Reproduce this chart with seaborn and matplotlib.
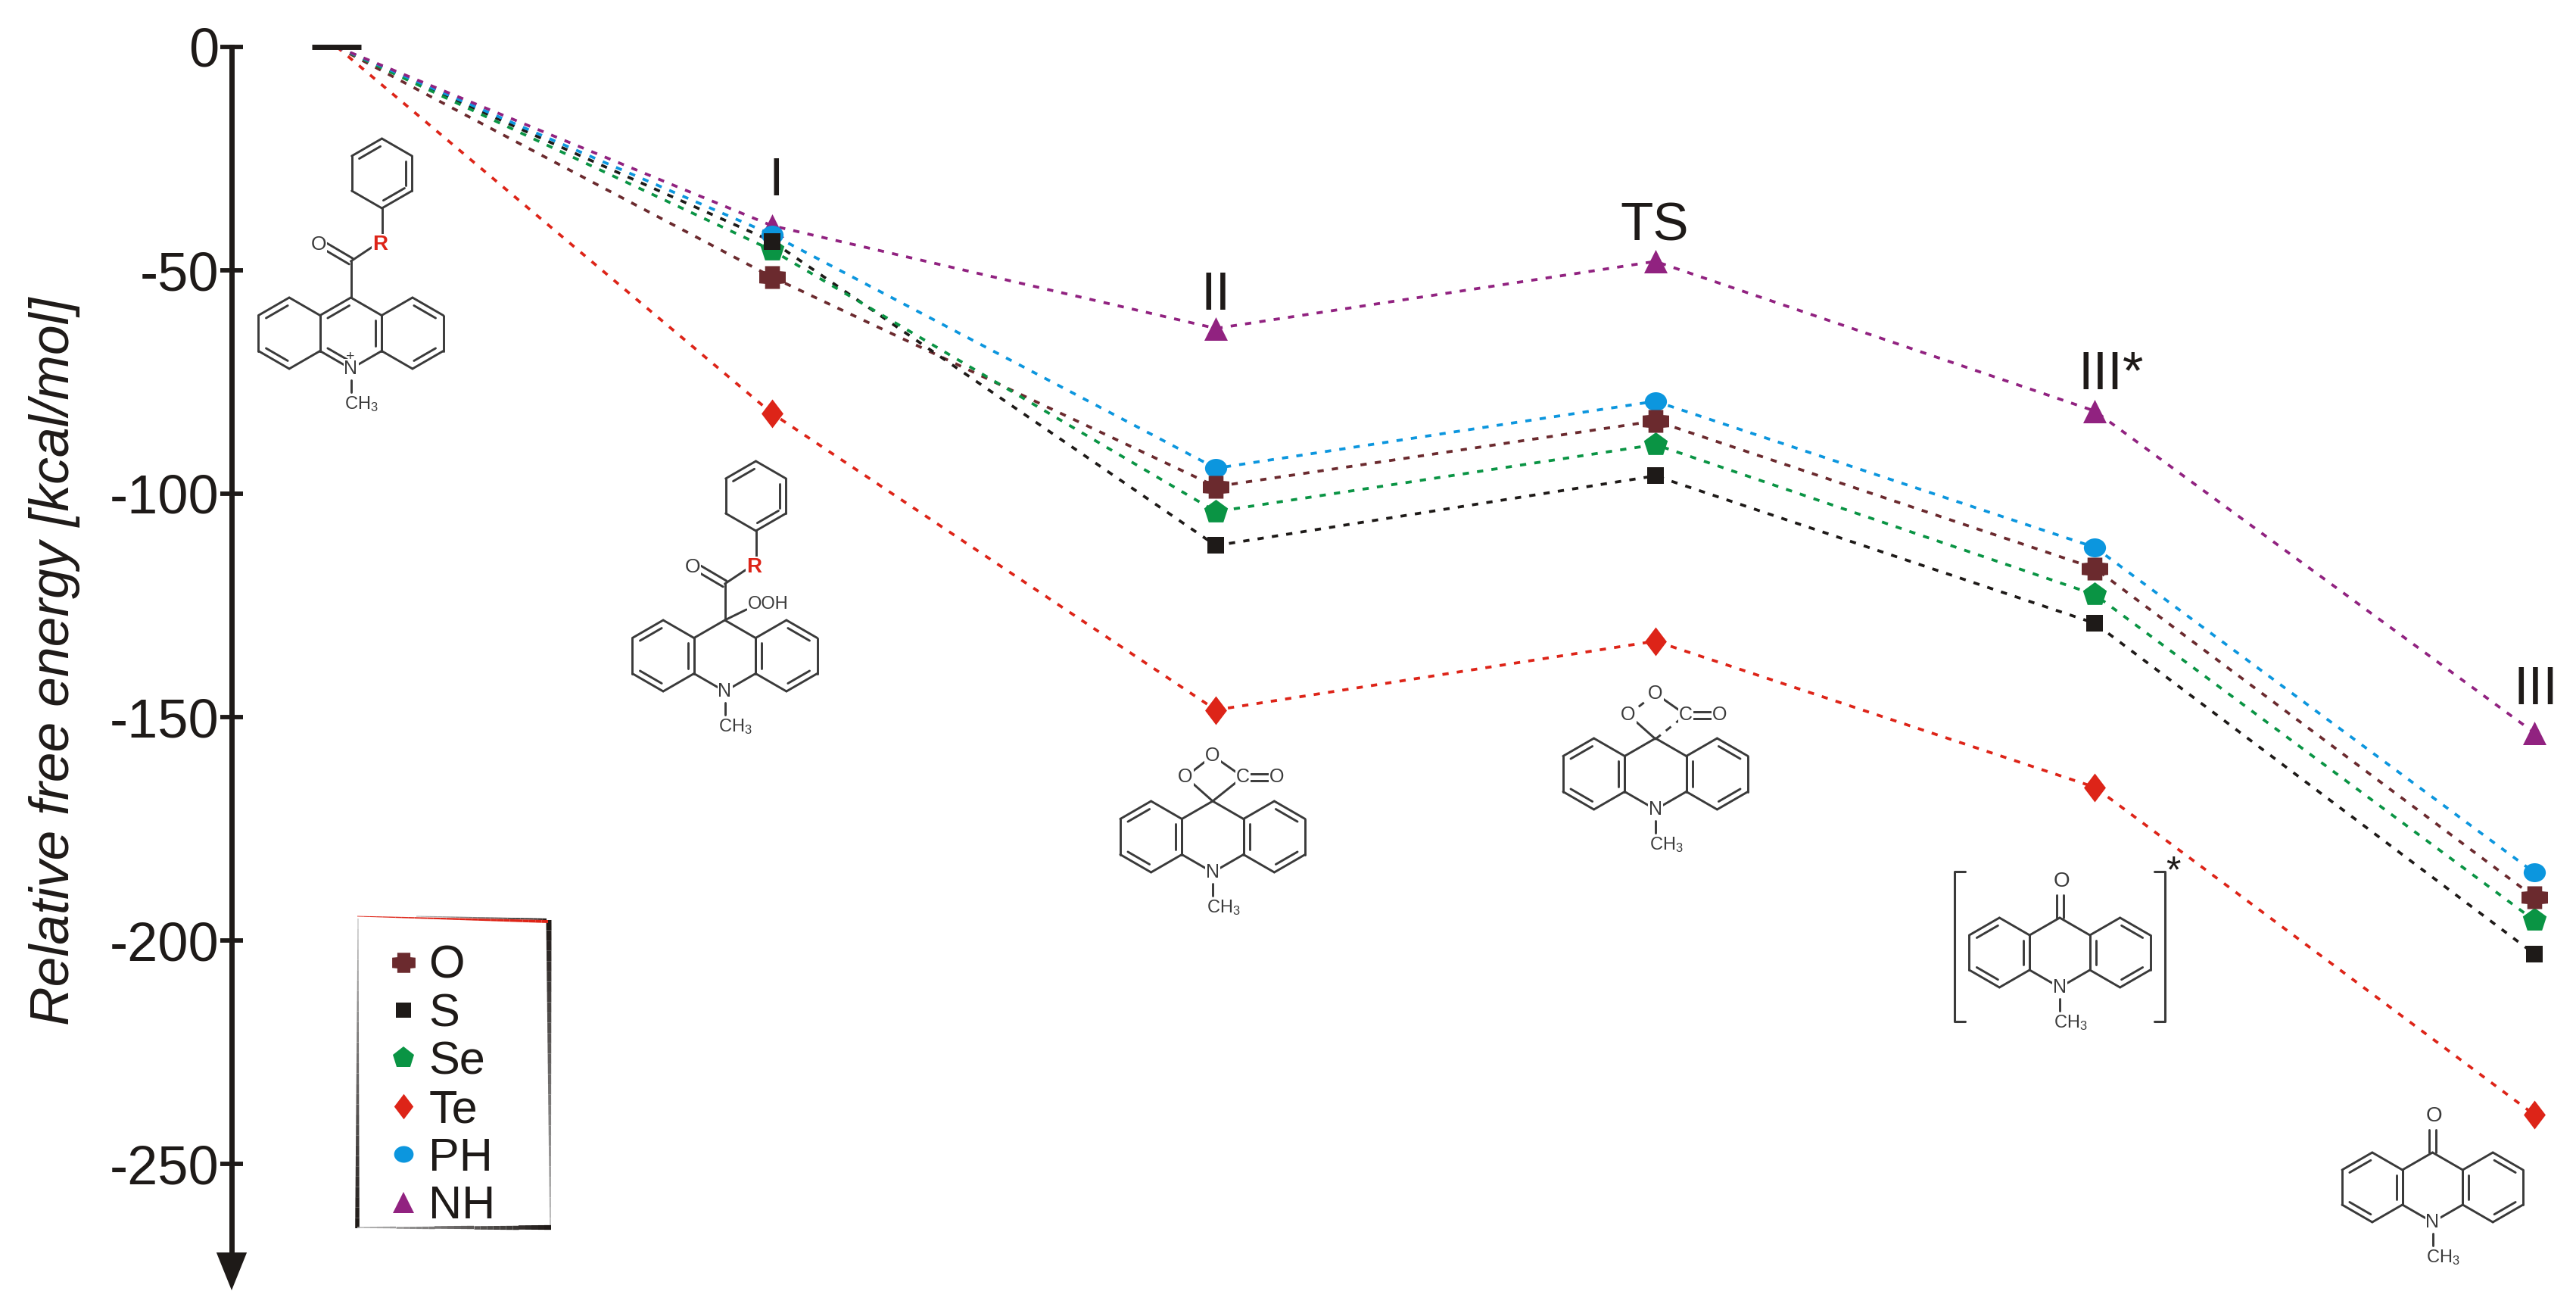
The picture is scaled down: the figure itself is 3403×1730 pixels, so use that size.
import numpy as np
import pandas as pd
import seaborn as sns
from matplotlib import pyplot as plt
from matplotlib.collections import LineCollection
from matplotlib.lines import Line2D
from matplotlib.markers import MarkerStyle
from matplotlib.path import Path
from matplotlib.transforms import Affine2D

# reaction coordinate, start level + the five labelled stages
stage_x = [0, 0.99, 2.0, 3.0, 4.0, 5.0]
stage_names = ["I", "II", "TS", "III*", "III"]

series_names = ["O", "S", "Se", "Te", "PH", "NH"]
energy_O = [0, -51.5, -98.4, -83.7, -116.7, -190.3]
energy_S = [0, -43.5, -111.6, -96, -129, -203]
energy_Se = [0, -45.5, -104, -89, -122.6, -195.5]
energy_Te = [0, -82, -148.4, -133, -165.7, -239]
energy_PH = [0, -42, -94.3, -79.3, -112, -184.8]
energy_NH = [0, -40, -63, -48, -81.5, -153.5]

y_ticks = [0, -50, -100, -150, -200, -250]
y_tick_labels = ["0", "-50", "-100", "-150", "-200", "-250"]

colors = {"O": "#6B2A2E", "S": "#1E1A18", "Se": "#0A9444",
          "Te": "#DD2418", "PH": "#0C96DE", "NH": "#912280"}
energies = {"O": energy_O, "S": energy_S, "Se": energy_Se,
            "Te": energy_Te, "PH": energy_PH, "NH": energy_NH}

W, H = 3403, 1730
PX_PER_X = 580.6
PX_PER_Y = 5.9
X0_PX = 445
Y0_PX = 62
MOL_COLOR = "#3a3a3a"

sns.set_theme(style="white")
plt.rcParams["font.family"] = ["Liberation Sans", "DejaVu Sans"]
plt.rcParams["mathtext.default"] = "regular"
plt.rcParams["text.color"] = "#1E1A18"

diamond = Path([(-0.38, 0), (0, 0.5), (0.38, 0), (0, -0.5), (-0.38, 0)], closed=True)
ellipse = MarkerStyle("o", transform=Affine2D().scale(1.17, 1.0))
# blocky plus, thicker than the stock "P"
block_plus = Path([(-0.5, -0.22), (-0.28, -0.24), (-0.28, -0.43), (0.28, -0.43), (0.28, -0.24),
                   (0.5, -0.22), (0.5, 0.22), (0.28, 0.24), (0.28, 0.43), (-0.28, 0.43),
                   (-0.28, 0.24), (-0.5, 0.22), (-0.5, -0.22)], closed=True)
markers = {"O": block_plus, "S": "s", "Se": "p", "Te": diamond, "PH": ellipse, "NH": "^"}
marker_px = {"O": 35, "S": 23, "Se": 33, "Te": 38, "PH": 25, "NH": 31}

fig = plt.figure(figsize=(W / 100, H / 100), dpi=100)
ax = fig.add_axes([0, 0, 1, 1])
ax.set_xlim(-X0_PX / PX_PER_X, (W - X0_PX) / PX_PER_X)
ax.set_ylim(-(H - Y0_PX) / PX_PER_Y, Y0_PX / PX_PER_Y)

rows = []
for name in series_names:
    for x, v in zip(stage_x, energies[name]):
        rows.append({"x": x, "energy": v, "series": name})
df = pd.DataFrame(rows)

sns.lineplot(data=df, x="x", y="energy", hue="series", style="series",
             palette=colors, dashes={n: (2.2, 2.9) for n in series_names},
             linewidth=2.7, legend=False, ax=ax, zorder=2)

# later series cover earlier ones at stage I
for name in ["NH", "PH", "Se", "O", "Te", "S"]:
    sns.scatterplot(x=stage_x[1:], y=energies[name][1:], marker=markers[name],
                    s=(marker_px[name] * 0.72) ** 2, color=colors[name],
                    linewidth=0, legend=False, ax=ax, zorder=3)

# start level
ax.hlines(0, -33 / PX_PER_X, 32 / PX_PER_X, color="#1E1A18", lw=5, zorder=4)

# y axis with an arrow in place of a box
axis_x = (306 - X0_PX) / PX_PER_X
sns.despine(ax=ax, bottom=True)
ax.spines["left"].set_position(("data", axis_x))
ax.spines["left"].set_bounds(-272, 0)
ax.spines["left"].set_linewidth(5)
ax.spines["left"].set_color("#1E1A18")
ax.set_xticks([])
ax.set_yticks(y_ticks)
ax.set_yticklabels(y_tick_labels)
ax.tick_params(axis="y", direction="inout", length=21.6, width=4.2, color="#1E1A18",
               labelsize=52, labelcolor="#1E1A18", pad=1, left=True)
ax.set_xlabel("")
ax.set_ylabel("Relative free energy [kcal/mol]", fontsize=51.5, fontstyle="italic",
              color="#1E1A18")
ax.yaxis.set_label_coords(106 / W, 1 - 873 / H)
ax.annotate("", xy=(axis_x, -(1704 - Y0_PX) / PX_PER_Y),
            xytext=(axis_x, -(1640 - Y0_PX) / PX_PER_Y),
            arrowprops=dict(arrowstyle="-|>,head_width=0.29,head_length=0.72",
                            color="#1E1A18", lw=0, mutation_scale=50,
                            shrinkA=0, shrinkB=0))

handles = [Line2D([], [], linestyle="none", marker=markers[n], color=colors[n],
                  markeredgewidth=0, markersize=marker_px[n] * 0.72 * 0.88)
           for n in series_names]
ax.legend(handles, series_names, loc="upper left", frameon=False, fontsize=44,
          bbox_to_anchor=(502 / W, 1 - 1248 / H), borderaxespad=0, borderpad=0,
          handletextpad=0.05, labelspacing=0.105, handlelength=1.0)

# everything below is placed in picture pixels on a clear overlay
mol = fig.add_axes([0, 0, 1, 1])
mol.set_xlim(0, W)
mol.set_ylim(H, 0)
mol.axis("off")
mol.patch.set_alpha(0)


def bond(p, q, lw=2.1, color=MOL_COLOR, ls="-"):
    mol.plot([p[0], q[0]], [p[1], q[1]], color=color, lw=lw, ls=ls,
             solid_capstyle="round", zorder=2)


def double_bond(p, q, gap=4.5):
    p, q = np.array(p, float), np.array(q, float)
    n = np.array([q[1] - p[1], p[0] - q[0]])
    n = n / np.hypot(*n) * gap
    bond(p + n, q + n)
    bond(p - n, q - n)


def chem(x, y, s, size=17, color=MOL_COLOR, ha="center", weight="normal"):
    mol.text(x, y, s, fontsize=size, color=color, ha=ha, va="center", zorder=3,
             fontweight=weight, bbox=dict(facecolor="white", edgecolor="none", pad=0.8))


def ring(cx, cy, s, inner=()):
    pts = [(cx + s * np.sin(np.pi / 3 * i), cy - s * np.cos(np.pi / 3 * i)) for i in range(6)]
    for i in range(6):
        bond(pts[i], pts[(i + 1) % 6])
    for i in inner:
        a, b = np.array(pts[i]), np.array(pts[(i + 1) % 6])
        c = np.array([cx, cy])
        a2, b2 = c + (a - c) * 0.8, c + (b - c) * 0.8
        bond(a2 + (b2 - a2) * 0.06, b2 - (b2 - a2) * 0.06)


def acridine(cx, cy, s=47, cation=False):
    dx = s * np.sqrt(3)
    if cation:
        ring(cx - dx, cy, s, (5, 3))
        ring(cx, cy, s, (5, 3, 1))
        ring(cx + dx, cy, s, (0, 2))
    else:
        ring(cx - dx, cy, s, (5, 3, 1))
        ring(cx, cy, s)
        ring(cx + dx, cy, s, (0, 2, 4))
    chem(cx, cy + s, "N", 18)
    bond((cx, cy + s + 15), (cx, cy + s + 31))
    chem(cx + 14, cy + s + 47, "CH$_3$", 17)


def carbonyl_r(cx, top, ph_dx=41):
    # benzoyl-like arm above the ring system, R in red
    c = (cx, top - 48)
    bond((cx, top), c)
    double_bond(c, (cx - 34, top - 68))
    chem(cx - 43, top - 70, "O", 19)
    bond(c, (cx + 30, top - 68))
    chem(cx + ph_dx - 2, top - 70, "R", 20, color="#DD2418", weight="bold")
    bond((cx + ph_dx, top - 84), (cx + ph_dx, top - 118))
    ring(cx + ph_dx, top - 164, 46, (5, 1, 2))


def dioxetanone(cx, top, dashed=False):
    ls = (0, (3, 3)) if dashed else "-"
    left, apex, carb = (cx - 36, top - 32), (cx, top - 60), (cx + 40, top - 32)
    bond((cx, top), left)
    bond(left, apex, ls=ls)
    bond(apex, carb)
    bond((cx, top), carb, ls=ls)
    double_bond((carb[0] + 10, carb[1]), (cx + 74, carb[1]))
    chem(*left, "O", 18)
    chem(*apex, "O", 18)
    chem(*carb, "C", 18)
    chem(cx + 85, carb[1], "O", 18)


def ketone(cx, cy, s=46):
    acridine(cx, cy, s)
    double_bond((cx, cy - s), (cx, cy - s - 30))
    chem(cx + 2, cy - s - 48, "O", 20)


# mechanism structures next to each stage
acridine(463.5, 440, cation=True)
mol.text(463, 471, "+", fontsize=14, ha="center", va="center", color=MOL_COLOR, zorder=4)
carbonyl_r(463.5, 393)

acridine(957.5, 866)
carbonyl_r(957.5, 819)
bond((957.5, 819), (986, 805))
chem(1015, 798, "OOH", 17)

acridine(1602, 1105)
dioxetanone(1602, 1058)

acridine(2187, 1022)
dioxetanone(2187, 976, dashed=True)

ketone(2721, 1258)
for bx, tip in [(2581.5, 14), (2860, -14)]:
    mol.plot([bx + tip, bx, bx, bx + tip], [1151, 1151, 1349, 1349],
             color=MOL_COLOR, lw=2.2, zorder=2)
mol.text(2871, 1152, "*", fontsize=36, ha="center", va="center", color="#1E1A18")

ketone(3213.5, 1568)

# stage labels
label_px = [(1025, 240), (1606, 391), (2186, 300), (2789, 496), (3350, 912)]
for (lx, ly), lab in zip(label_px, stage_names):
    mol.text(lx, ly, lab, fontsize=51, ha="center", va="center", color="#1E1A18")


def sketch_edge(p, q, w0, w1, c0, c1, n=30):
    # hand-drawn looking frame edge: width and colour change along it
    xs = np.linspace(p[0], q[0], n + 1)
    ys = np.linspace(p[1], q[1], n + 1)
    segs = [[(xs[i], ys[i]), (xs[i + 1], ys[i + 1])] for i in range(n)]
    t = np.linspace(0, 1, n)[:, None]
    cols = (1 - t) * np.array(c0) + t * np.array(c1)
    mol.add_collection(LineCollection(segs, colors=cols, linewidths=np.linspace(w0, w1, n),
                                      capstyle="butt", zorder=5))


dark = (0.12, 0.10, 0.09)
grey = (0.72, 0.72, 0.72)
red = (0.87, 0.14, 0.09)
sketch_edge((473, 1213), (472, 1622), 0.8, 4.0, grey, dark)
sketch_edge((725, 1215), (727, 1622), 5.0, 1.2, dark, grey)
sketch_edge((472, 1621), (728, 1621), 1.2, 4.5, grey, dark)
sketch_edge((550, 1210), (722, 1214), 0.8, 1.5, grey, dark)
sketch_edge((472, 1210), (724, 1217), 0.6, 2.8, red, red)

fig.savefig("out.png", dpi=100)
